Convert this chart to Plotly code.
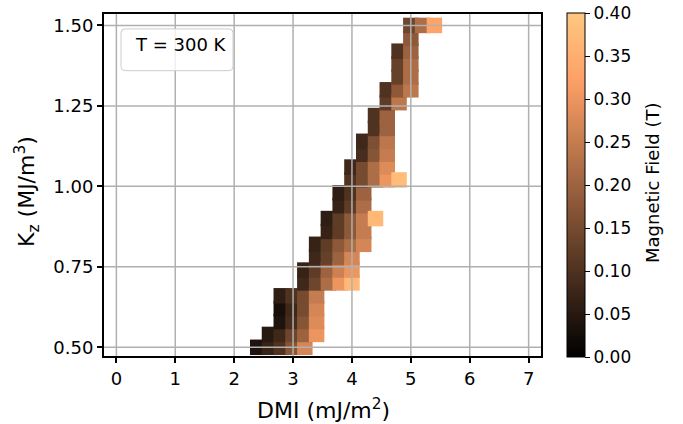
import plotly.graph_objects as go

# ---------------- data ----------------
kz_levels = [0.50, 0.54, 0.58, 0.62, 0.66, 0.70, 0.74, 0.78, 0.82, 0.86, 0.90, 0.94, 0.98,
             1.02, 1.06, 1.10, 1.14, 1.18, 1.22, 1.26, 1.30, 1.34, 1.38, 1.42, 1.46, 1.50]

dmi_rows = [
    [2.4, 2.6, 2.8, 3.0, 3.2],
    [2.6, 2.8, 3.0, 3.2, 3.4],
    [2.8, 3.0, 3.2, 3.4],
    [2.8, 3.0, 3.2, 3.4],
    [2.8, 3.0, 3.2, 3.4],
    [3.2, 3.4, 3.6, 3.8, 4.0],
    [3.2, 3.4, 3.6, 3.8, 4.0],
    [3.4, 3.6, 3.8, 4.0],
    [3.4, 3.6, 3.8, 4.0, 4.2],
    [3.6, 3.8, 4.0, 4.2],
    [3.6, 3.8, 4.0, 4.2, 4.4],
    [3.8, 4.0, 4.2],
    [3.8, 4.0, 4.2],
    [4.0, 4.2, 4.4, 4.6, 4.8],
    [4.0, 4.2, 4.4, 4.6],
    [4.2, 4.4, 4.6],
    [4.2, 4.4, 4.6],
    [4.4, 4.6],
    [4.4, 4.6],
    [4.6, 4.8],
    [4.6, 4.8, 5.0],
    [4.8, 5.0],
    [4.8, 5.0],
    [4.8, 5.0],
    [5.0],
    [5.0, 5.2, 5.4],
]

field_rows = [
    [0.04, 0.07, 0.10, 0.17, 0.27],
    [0.05, 0.08, 0.14, 0.20, 0.30],
    [0.04, 0.09, 0.17, 0.28],
    [0.03, 0.08, 0.15, 0.27],
    [0.06, 0.10, 0.15, 0.25],
    [0.08, 0.14, 0.22, 0.30, 0.37],
    [0.07, 0.12, 0.20, 0.26, 0.30],
    [0.08, 0.13, 0.20, 0.27],
    [0.07, 0.12, 0.18, 0.22, 0.27],
    [0.07, 0.12, 0.18, 0.25],
    [0.06, 0.12, 0.18, 0.25, 0.37],
    [0.07, 0.12, 0.22],
    [0.06, 0.10, 0.20],
    [0.10, 0.15, 0.22, 0.30, 0.38],
    [0.08, 0.15, 0.22, 0.28],
    [0.09, 0.17, 0.25],
    [0.08, 0.16, 0.24],
    [0.10, 0.20],
    [0.10, 0.20],
    [0.12, 0.24],
    [0.10, 0.18, 0.24],
    [0.13, 0.22],
    [0.13, 0.22],
    [0.10, 0.20],
    [0.18],
    [0.14, 0.22, 0.33],
]

x_ticks = [0, 1, 2, 3, 4, 5, 6, 7]
y_ticks = [0.50, 0.75, 1.00, 1.25, 1.50]
cbar_ticks = [0.00, 0.05, 0.10, 0.15, 0.20, 0.25, 0.30, 0.35, 0.40]
legend_label = "T = 300 K"
x_title = "DMI (mJ/m<sup>2</sup>)"
y_title = "K<sub>z</sub> (MJ/m<sup>3</sup>)"
cbar_title = "Magnetic Field (T)"

# ---------------- build points (drawn in DMI-then-Kz order) ----------------
pts = []
for kz, xs, vs in zip(kz_levels, dmi_rows, field_rows):
    for x, v in zip(xs, vs):
        pts.append((x, kz, v))
pts.sort(key=lambda p: (p[0], p[1]))
xs = [p[0] for p in pts]
ys = [p[1] for p in pts]
vs = [p[2] for p in pts]

copper = [
    [0.0, "rgb(0,0,0)"],
    [0.809524, "rgb(255,161,103)"],
    [1.0, "rgb(255,199,127)"],
]

FONT = "DejaVu Sans"
W, H = 683, 424
ML, MR, MT, MB = 104, 142, 12, 68
PW, PH = W - ML - MR, H - MT - MB


def px(x):
    return (x - ML) / PW


def py(y):
    return (H - MB - y) / PH


fig = go.Figure()
fig.add_trace(go.Scatter(
    x=xs, y=ys, mode="markers",
    marker=dict(
        symbol="square", size=15.5, color=vs, colorscale=copper,
        cmin=0.0, cmax=0.4, line=dict(width=0),
        showscale=True,
        colorbar=dict(
            x=px(567), xanchor="left", xpad=0,
            y=0.5, yanchor="middle", ypad=0,
            len=PH, lenmode="pixels", thickness=18,
            outlinewidth=1, outlinecolor="black",
            tickvals=cbar_ticks, tickformat=".2f",
            ticks="outside", ticklen=5, tickwidth=1, tickcolor="black",
            tickfont=dict(family=FONT, size=17, color="black"),
        ),
    ),
    hoverinfo="skip", showlegend=False,
))

# grid lines drawn above the markers (as in the reference)
shapes = []
for v in x_ticks:
    shapes.append(dict(type="line", xref="x", yref="paper", x0=v, x1=v, y0=0, y1=1,
                       line=dict(color="#b0b0b0", width=1.5), layer="above"))
for v in y_ticks:
    shapes.append(dict(type="line", xref="paper", yref="y", x0=0, x1=1, y0=v, y1=v,
                       line=dict(color="#b0b0b0", width=1.5), layer="above"))

# legend-like rounded box
bx0, bx1, by0, by1 = 121, 233, 27, 69
r = 4.0
path = (f"M {px(bx0 + r)},{py(by0)} L {px(bx1 - r)},{py(by0)} "
        f"Q {px(bx1)},{py(by0)} {px(bx1)},{py(by0 + r)} "
        f"L {px(bx1)},{py(by1 - r)} Q {px(bx1)},{py(by1)} {px(bx1 - r)},{py(by1)} "
        f"L {px(bx0 + r)},{py(by1)} Q {px(bx0)},{py(by1)} {px(bx0)},{py(by1 - r)} "
        f"L {px(bx0)},{py(by0 + r)} Q {px(bx0)},{py(by0)} {px(bx0 + r)},{py(by0)} Z")
shapes.append(dict(type="path", xref="paper", yref="paper", path=path,
                   fillcolor="rgba(255,255,255,0.8)", line=dict(color="#cccccc", width=1),
                   layer="above"))

annotations = [
    dict(text=legend_label, xref="paper", yref="paper",
         x=px(181), y=py(43), xanchor="center", yanchor="middle",
         showarrow=False, font=dict(family=FONT, size=18, color="black")),
    dict(text=x_title, xref="paper", yref="paper",
         x=px(323), y=py(409), xanchor="center", yanchor="middle",
         showarrow=False, font=dict(family=FONT, size=22, color="black")),
    dict(text=y_title, xref="paper", yref="paper", textangle=-90,
         x=px(27), y=py(191), xanchor="center", yanchor="middle",
         showarrow=False, font=dict(family=FONT, size=22, color="black")),
    dict(text=cbar_title, xref="paper", yref="paper", textangle=-90,
         x=px(652), y=py(182), xanchor="center", yanchor="middle",
         showarrow=False, font=dict(family=FONT, size=18, color="black")),
]

fig.update_layout(
    width=W, height=H,
    margin=dict(l=ML, r=MR, t=MT, b=MB, pad=0),
    paper_bgcolor="white", plot_bgcolor="white",
    font=dict(family=FONT, size=17, color="black"),
    shapes=shapes,
    annotations=annotations,
    xaxis=dict(
        range=[-0.21, 7.21], tickvals=x_ticks, ticktext=[str(t) for t in x_ticks],
        showgrid=False, zeroline=False,
        showline=True, linecolor="black", linewidth=2, mirror=True,
        ticks="outside", ticklen=5, tickwidth=1.5, tickcolor="black",
        tickfont=dict(family=FONT, size=18),
    ),
    yaxis=dict(
        range=[0.473, 1.5355], tickvals=y_ticks, ticktext=[f"{t:.2f}" for t in y_ticks],
        showgrid=False, zeroline=False,
        showline=True, linecolor="black", linewidth=2, mirror=True,
        ticks="outside", ticklen=5, tickwidth=1.5, tickcolor="black",
        tickfont=dict(family=FONT, size=18),
    ),
)

fig.write_html("out.html")
